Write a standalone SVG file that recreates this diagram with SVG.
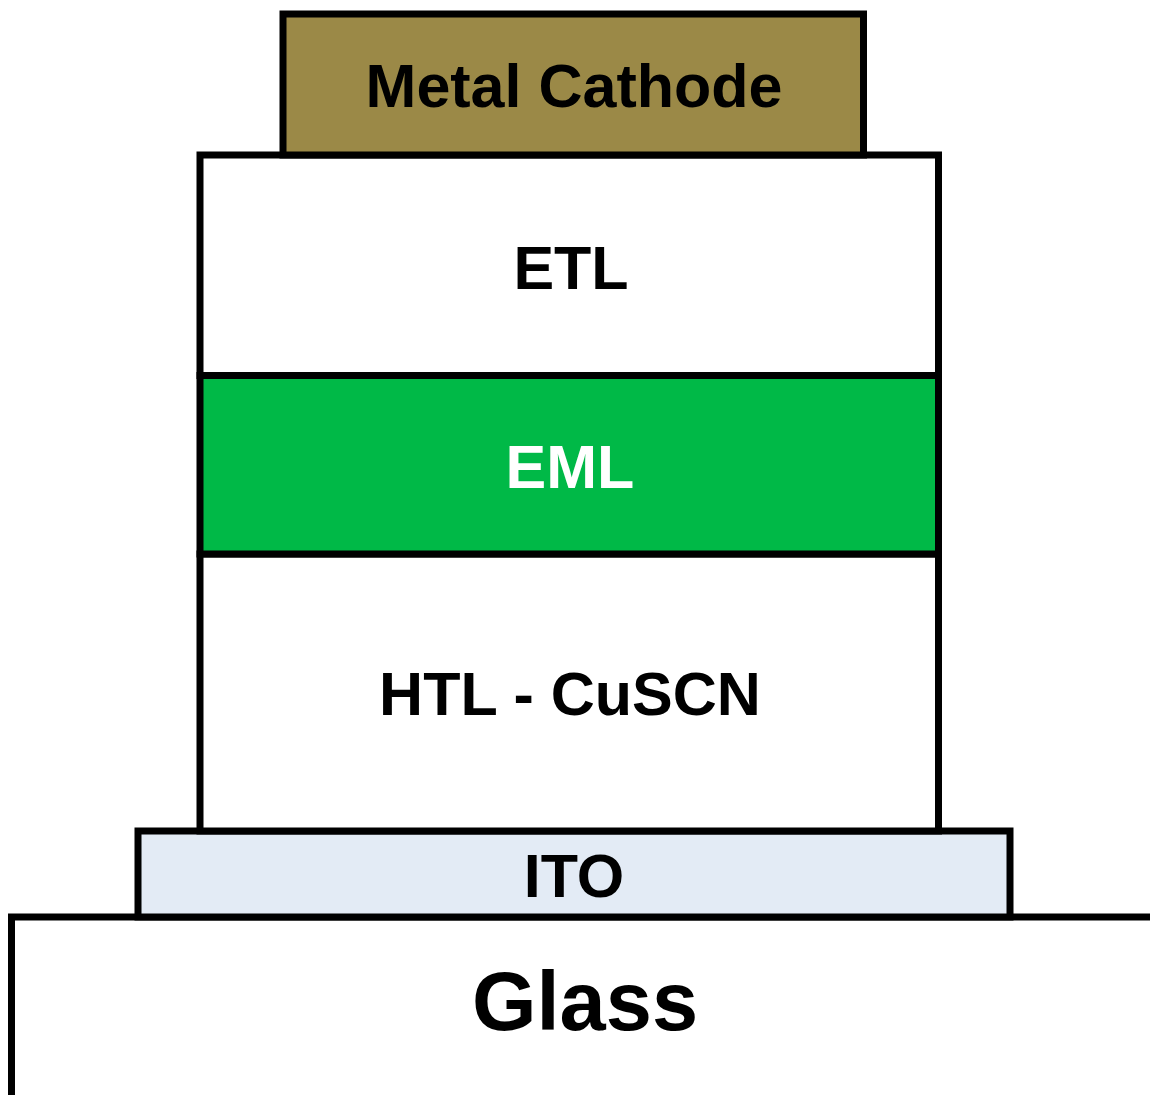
<svg xmlns="http://www.w3.org/2000/svg" width="1150" height="1095" viewBox="0 0 1150 1095">
  <style>
    .layer { stroke: #000000; stroke-width: 7; }
    .lbl { font-family: "Liberation Sans", Arial, sans-serif; font-weight: bold; font-size: 61px; text-anchor: middle; fill: #000000; }
  </style>
  <rect x="0" y="0" width="1150" height="1095" fill="#FFFFFF"/>
  <g id="glass">
    <rect class="layer" x="11.5" y="917" width="1150" height="200" fill="#FFFFFF"/>
    <text class="lbl" x="585" y="1030" style="font-size:83px">Glass</text>
  </g>
  <g id="ito">
    <rect class="layer" x="138" y="831" width="872" height="86" fill="#E3EBF5"/>
    <text class="lbl" x="574" y="897">ITO</text>
  </g>
  <g id="htl">
    <rect class="layer" x="200" y="554" width="738.5" height="277" fill="#FFFFFF"/>
    <text class="lbl" x="570" y="715">HTL - CuSCN</text>
  </g>
  <g id="eml">
    <rect class="layer" x="200" y="375.5" width="738.5" height="178.5" fill="#00B947"/>
    <text class="lbl" x="570" y="488" style="fill:#FFFFFF">EML</text>
  </g>
  <g id="etl">
    <rect class="layer" x="200" y="155" width="738.5" height="220.5" fill="#FFFFFF"/>
    <text class="lbl" x="571" y="289">ETL</text>
  </g>
  <g id="cathode">
    <rect class="layer" x="283" y="14" width="580.5" height="141" fill="#9B8947"/>
    <text class="lbl" x="574" y="107">Metal Cathode</text>
  </g>
  <g id="connectors"></g>
</svg>
